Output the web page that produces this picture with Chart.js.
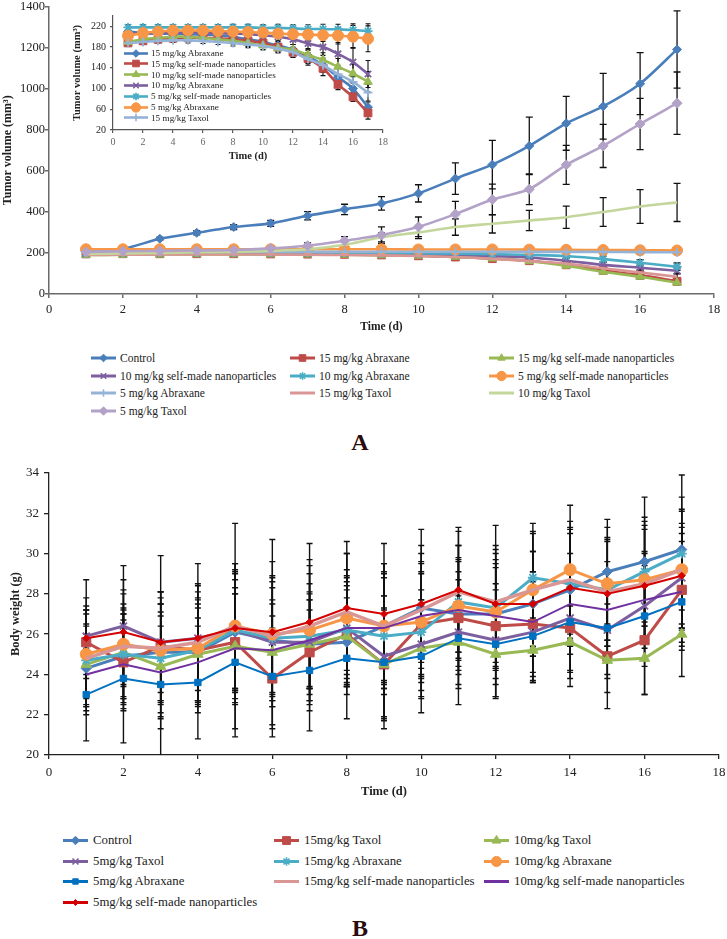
<!DOCTYPE html>
<html>
<head>
<meta charset="utf-8">
<script src="https://cdn.jsdelivr.net/npm/chart.js@4.4.0/dist/chart.umd.min.js"></script>
<style>
body { margin: 0; background: #fff; }
#page { position: relative; width: 727px; height: 939px; font-family: 'Liberation Serif', 'Times New Roman', serif; }
#page > canvas { position: absolute; }
.leg { position: absolute; display: flex; align-items: center; white-space: nowrap; color: #222; }
.leg canvas { display: block; }
.panel { position: absolute; font-weight: bold; font-size: 24px; color: #2b0b0b; transform: translate(-50%, -50%); }
</style>
</head>
<body>
<div id="page">
  <canvas id="chartA" width="727" height="336" style="left:0;top:0"></canvas>
  <canvas id="inset" width="335" height="158" style="left:58px;top:8px"></canvas>
  <div class="panel" style="left:360px;top:442px">A</div>
  <canvas id="chartB" width="727" height="339" style="left:0;top:462px"></canvas>
  <div class="panel" style="left:360px;top:928px">B</div>
</div>
<script>
// dias de medicion
const days = [1, 2, 3, 4, 5, 6, 7, 8, 9, 10, 11, 12, 13, 14, 15, 16, 17];
const xTicksMax = 18;

// ---- A: volumen tumoral (mm3)
const groupsA = ['Control', '15 mg/kg Abraxane', '15 mg/kg self-made nanoparticles',
  '10 mg/kg self-made nanoparticles', '10 mg/kg Abraxane', '5 mg/kg self-made nanoparticles',
  '5 mg/kg Abraxane', '15 mg/kg Taxol', '10 mg/kg Taxol', '5 mg/kg Taxol'];
const volControl = [215, 220, 269, 298, 326, 344, 381, 412, 441, 490, 562, 630, 721, 831, 914, 1024, 1191];
const volAbx15   = [195, 196, 196, 196, 196, 195, 194, 193, 190, 186, 180, 172, 162, 142, 115, 92, 62];
const volSelf15  = [190, 191, 192, 193, 193, 193, 192, 191, 189, 186, 181, 173, 160, 138, 108, 84, 55];
const volSelf10  = [198, 199, 200, 200, 200, 200, 199, 198, 196, 194, 190, 185, 178, 162, 142, 128, 113];
const volAbx10   = [200, 201, 202, 202, 202, 202, 202, 201, 200, 198, 196, 194, 190, 185, 170, 152, 133];
const volSelf5   = [218, 218, 218, 218, 218, 218, 218, 218, 218, 217, 217, 217, 216, 215, 214, 213, 212];
const volAbx5    = [205, 206, 206, 206, 206, 206, 206, 206, 206, 206, 206, 205, 205, 205, 205, 204, 203];
const volTax15   = [190, 191, 192, 192, 192, 192, 191, 190, 188, 185, 180, 172, 160, 148, 125, 105, 84];
const volTax10   = [195, 198, 200, 203, 205, 210, 218, 240, 276, 300, 326, 342, 358, 374, 399, 426, 446];
const volTax5    = [205, 208, 210, 212, 214, 222, 235, 259, 287, 327, 389, 460, 510, 629, 721, 828, 929];
// desviaciones
const errControl = [5, 6, 8, 10, 12, 15, 20, 25, 33, 42, 77, 118, 140, 131, 160, 151, 188];
const errAbx15   = [4, 4, 4, 5, 5, 5, 5, 6, 6, 7, 8, 9, 10, 12, 12, 12, 14];
const errSelf15  = [4, 4, 4, 5, 5, 5, 5, 6, 6, 7, 8, 9, 10, 11, 12, 12, 12];
const errSelf10  = [4, 4, 5, 5, 5, 5, 6, 6, 7, 8, 9, 10, 11, 12, 13, 14, 15];
const errAbx10   = [5, 5, 5, 5, 6, 6, 6, 6, 7, 8, 8, 9, 10, 12, 14, 15, 18];
const errSelf5   = [5, 5, 5, 5, 5, 6, 6, 6, 6, 7, 7, 8, 8, 9, 10, 10, 10];
const errAbx5    = [4, 4, 4, 4, 5, 5, 5, 5, 6, 6, 7, 7, 8, 8, 9, 9, 10];
const errTax15   = [4, 4, 4, 5, 5, 5, 5, 6, 6, 7, 8, 9, 10, 12, 13, 14, 15];
const errTax10   = [5, 5, 6, 6, 7, 8, 10, 15, 22, 30, 40, 45, 49, 54, 70, 82, 93];
const errTax5    = [5, 6, 6, 7, 8, 10, 14, 20, 40, 48, 62, 75, 75, 95, 105, 125, 152];

// ---- inserto de A
const groupsInset = ['15 mg/kg Abraxane', '15 mg/kg self-made nanoparticles', '10 mg/kg self-made nanoparticles',
  '10 mg/kg Abraxane', '5 mg/kg self-made nanoparticles', '5 mg/kg Abraxane', '15 mg/kg Taxol'];
const inAbx15  = [210, 207, 206, 206, 205, 204, 203, 200, 195, 190, 183, 175, 162, 145, 122, 100, 64];
const inSelf15 = [188, 192, 195, 197, 198, 198, 197, 195, 192, 188, 180, 170, 158, 139, 108, 84, 53];
const inSelf10 = [190, 195, 198, 200, 200, 198, 195, 192, 188, 183, 178, 175, 165, 155, 142, 129, 113];
const inAbx10  = [205, 207, 208, 208, 208, 208, 207, 206, 205, 203, 200, 195, 187, 180, 167, 151, 128];
const inSelf5  = [218, 218, 218, 218, 218, 218, 218, 218, 218, 217, 217, 216, 215, 215, 214, 213, 211];
const inAbx5   = [202, 207, 210, 212, 212, 212, 211, 210, 209, 208, 206, 205, 204, 203, 202, 200, 196];
const inTax15  = [188, 190, 192, 193, 193, 192, 190, 188, 185, 182, 177, 170, 157, 145, 128, 113, 92];
const inErrAbx15  = [4, 4, 4, 4, 5, 5, 5, 6, 6, 7, 8, 10, 12, 14, 18, 12, 10];
const inErrSelf15 = [5, 5, 5, 5, 5, 5, 6, 6, 6, 7, 8, 9, 10, 14, 10, 9, 12];
const inErrSelf10 = [4, 4, 5, 5, 5, 5, 6, 6, 7, 8, 9, 10, 12, 14, 16, 18, 20];
const inErrAbx10  = [4, 4, 4, 4, 4, 5, 5, 5, 6, 6, 8, 10, 12, 16, 22, 28, 26];
const inErrSelf5  = [5, 5, 5, 5, 5, 5, 5, 6, 6, 6, 7, 7, 8, 9, 10, 12, 14];
const inErrAbx5   = [5, 5, 5, 5, 5, 5, 5, 6, 6, 6, 7, 8, 10, 12, 16, 22, 25];
const inErrTax15  = [4, 4, 4, 4, 5, 5, 5, 6, 6, 7, 8, 10, 12, 12, 14, 16, 16];
const insetYTicks = [20, 60, 100, 140, 180, 220];

// ---- B: peso corporal (g)
const groupsB = ['Control', '15mg/kg Taxol', '10mg/kg Taxol', '5mg/kg Taxol', '15mg/kg Abraxane',
  '10mg/kg Abraxane', '5mg/kg Abraxane', '15mg/kg self-made nanoparticles',
  '10mg/kg self-made nanoparticles', '5mg/kg self-made nanoparticles'];
const bwControl = [24.3, 24.9, 25.1, 25.1, 26.1, 25.7, 25.5, 25.6, 26.4, 27.3, 27.0, 27.0, 27.5, 28.2, 29.1, 29.6, 30.2];
const bwTax15   = [25.6, 24.6, 25.4, 25.2, 25.6, 23.8, 25.1, 26.0, 24.5, 26.5, 26.8, 26.4, 26.5, 26.3, 24.9, 25.7, 28.2];
const bwTax10   = [24.5, 25.1, 24.4, 25.0, 25.4, 25.1, 25.5, 25.9, 24.5, 25.3, 25.6, 25.0, 25.2, 25.6, 24.7, 24.8, 26.0];
const bwTax5    = [25.9, 26.4, 25.6, 25.8, 26.2, 25.6, 25.6, 26.3, 24.9, 25.5, 26.1, 25.7, 26.1, 26.8, 26.2, 27.4, 28.8];
const bwAbx15   = [24.7, 25.0, 24.8, 25.2, 26.2, 25.8, 25.9, 26.2, 25.9, 26.1, 27.6, 27.3, 28.8, 28.5, 28.2, 29.1, 30.0];
const bwAbx10   = [25.0, 25.5, 25.2, 25.3, 26.4, 26.0, 26.2, 26.8, 26.4, 26.6, 27.4, 27.1, 28.2, 29.2, 28.5, 28.7, 29.2];
const bwAbx5    = [23.0, 23.8, 23.5, 23.6, 24.6, 23.9, 24.2, 24.8, 24.6, 24.9, 25.8, 25.5, 25.9, 26.6, 26.3, 26.9, 27.6];
const bwSelf15  = [24.8, 25.4, 25.3, 25.6, 26.4, 25.9, 26.4, 27.1, 26.4, 27.2, 28.1, 27.6, 28.2, 28.7, 28.1, 28.5, 29.2];
const bwSelf10  = [24.0, 24.5, 24.1, 24.6, 25.3, 25.2, 25.7, 26.3, 26.3, 26.9, 27.2, 26.9, 26.6, 27.5, 27.2, 27.7, 28.1];
const bwSelf5   = [25.8, 26.1, 25.6, 25.8, 26.3, 26.1, 26.6, 27.3, 27.0, 27.5, 28.2, 27.5, 27.5, 28.3, 28.0, 28.4, 28.9];
const sdControl = [2.1, 2.3, 2.4, 2.4, 2.9, 2.6, 2.5, 2.6, 2.7, 2.7, 2.8, 2.7, 2.6, 2.8, 2.6, 3.2, 3.7];
const sdTax15   = [1.8, 2.4, 2.7, 2.5, 3.1, 2.5, 2.6, 2.6, 2.7, 2.6, 2.8, 2.9, 2.6, 2.9, 2.6, 2.7, 2.8];
const sdTax10   = [2.0, 2.2, 2.5, 2.3, 2.6, 2.4, 2.2, 2.5, 2.8, 2.4, 2.3, 2.1, 1.6, 1.8, 1.6, 1.8, 2.1];
const sdTax5    = [1.9, 3.0, 2.5, 2.6, 3.0, 3.2, 3.4, 2.9, 3.0, 2.7, 2.6, 2.8, 2.5, 2.6, 2.4, 2.6, 2.5];
const sdAbx15   = [2.3, 2.5, 2.7, 2.6, 2.9, 2.8, 2.6, 2.7, 2.9, 2.9, 2.8, 2.9, 2.7, 2.8, 2.5, 2.7, 2.8];
const sdAbx10   = [2.2, 2.7, 2.6, 2.8, 5.1, 3.6, 3.5, 3.2, 3.1, 3.0, 3.0, 2.9, 2.9, 3.2, 2.8, 2.9, 2.9];
const sdAbx5    = [2.3, 3.2, 3.6, 2.8, 3.7, 3.0, 3.0, 3.0, 3.3, 2.8, 3.3, 2.7, 2.2, 2.5, 2.3, 2.5, 2.4];
const sdSelf15  = [2.4, 2.6, 2.8, 2.9, 3.1, 3.0, 3.0, 2.9, 3.1, 3.2, 3.0, 3.8, 2.8, 2.9, 2.7, 2.9, 3.0];
const sdSelf10  = [2.0, 2.2, 2.3, 2.2, 2.7, 2.5, 2.4, 2.5, 2.7, 2.6, 2.5, 2.6, 2.5, 2.5, 2.4, 2.4, 2.5];
const sdSelf5   = [2.9, 2.6, 4.3, 3.7, 3.2, 4.6, 3.9, 3.3, 3.5, 3.7, 3.1, 2.9, 2.6, 2.9, 2.6, 2.8, 2.6];

// estilos (color, marcador, radio, grosor)
const lookA = [
  { c: '#4A7EBB', s: 'rectRot', r: 4.5, w: 2.6 },
  { c: '#BE4B48', s: 'rect', r: 5.5, w: 2.6 },
  { c: '#98B954', s: 'triangle', r: 5, w: 2.6 },
  { c: '#7D5FA0', s: 'crossRot', r: 4.5, w: 2.6 },
  { c: '#4BACC6', s: 'star', r: 4.5, w: 2.6 },
  { c: '#F79646', s: 'circle', r: 5.5, w: 2.6 },
  { c: '#95B3D7', s: 'cross', r: 4.5, w: 2.6 },
  { c: '#DA9694', s: 'circle', r: 0, w: 2.6 },
  { c: '#C3D69B', s: 'circle', r: 0, w: 2.6 },
  { c: '#B3A2C7', s: 'rectRot', r: 5, w: 2.6 }
];
const lookInset = [lookA[0], lookA[1], lookA[2], lookA[3], lookA[4], lookA[5], lookA[6]];
const lookB = [
  { c: '#4A7EBB', s: 'rectRot', r: 5, w: 3 },
  { c: '#BE4B48', s: 'rect', r: 6.5, w: 3 },
  { c: '#98B954', s: 'triangle', r: 6, w: 3 },
  { c: '#7D5FA0', s: 'crossRot', r: 5, w: 3 },
  { c: '#4BACC6', s: 'star', r: 5, w: 3 },
  { c: '#F79646', s: 'circle', r: 6, w: 3 },
  { c: '#0070C0', s: 'rect', r: 4.5, w: 2 },
  { c: '#D99694', s: 'circle', r: 0, w: 3.5 },
  { c: '#7030A0', s: 'circle', r: 0, w: 2 },
  { c: '#D40000', s: 'rectRot', r: 3.5, w: 2 }
];

const serif = "'Liberation Serif', 'Times New Roman', serif";
Chart.defaults.font.family = serif;
Chart.defaults.color = '#222';

// barras de error dibujadas con las escalas del grafico
const errorBars = {
  id: 'errorBars',
  beforeDatasetsDraw(chart, args, opts) {
    const { ctx, chartArea, scales } = chart;
    ctx.save();
    ctx.beginPath();
    ctx.rect(chartArea.left, chartArea.top, chartArea.right - chartArea.left, chartArea.bottom - chartArea.top);
    ctx.clip();
    ctx.strokeStyle = '#111';
    ctx.lineWidth = opts.width || 1.2;
    const cap = opts.cap || 3;
    chart.data.datasets.forEach(ds => {
      if (!ds.errors) return;
      ds.data.forEach((p, i) => {
        const e = ds.errors[i];
        const px = scales.x.getPixelForValue(p.x);
        const top = scales.y.getPixelForValue(p.y + e);
        const bot = scales.y.getPixelForValue(p.y - e);
        ctx.beginPath();
        ctx.moveTo(px, top); ctx.lineTo(px, bot);
        ctx.moveTo(px - cap, top); ctx.lineTo(px + cap, top);
        ctx.moveTo(px - cap, bot); ctx.lineTo(px + cap, bot);
        ctx.stroke();
      });
    });
    ctx.restore();
  }
};

function axisFix(size) {
  return function (scale) {
    if (scale.isHorizontal()) scale.height = size; else scale.width = size;
    scale.paddingTop = 0; scale.paddingBottom = 0;
    scale.paddingLeft = 0; scale.paddingRight = 0;
  };
}

const plainNumber = v => String(v); // sin separador de miles

function makeSets(labels, values, errors, looks, tension) {
  const n = labels.length;
  return labels.map((label, k) => {
    const lk = looks[k];
    return {
      label: label,
      data: days.map((d, i) => ({ x: d, y: values[k][i] })),
      errors: errors[k],
      borderColor: lk.c,
      backgroundColor: lk.c,
      borderWidth: lk.w,
      pointStyle: lk.s,
      pointRadius: lk.r,
      pointBorderWidth: (lk.s === 'crossRot' || lk.s === 'star' || lk.s === 'cross') ? 1.8 : 1,
      pointBackgroundColor: lk.c,
      pointBorderColor: lk.c,
      tension: tension,
      order: n - k
    };
  });
}

function axisStyle(color, width, tick) {
  return {
    grid: { drawOnChartArea: false, drawTicks: true, tickLength: tick, color: color, lineWidth: width },
    border: { color: color, width: width }
  };
}

// ---- grafico A principal
new Chart(document.getElementById('chartA'), {
  type: 'line',
  data: {
    datasets: makeSets(groupsA,
      [volControl, volAbx15, volSelf15, volSelf10, volAbx10, volSelf5, volAbx5, volTax15, volTax10, volTax5],
      [errControl, errAbx15, errSelf15, errSelf10, errAbx10, errSelf5, errAbx5, errTax15, errTax10, errTax5],
      lookA, 0.25)
  },
  options: {
    responsive: false,
    animation: false,
    layout: { padding: { top: 6, right: 13, bottom: 0, left: 0 } },
    plugins: { legend: { display: false }, tooltip: { enabled: false }, errorBars: { cap: 3.5, width: 1.3 } },
    scales: {
      x: Object.assign({
        type: 'linear', min: 0, max: xTicksMax, afterFit: axisFix(42),
        ticks: { stepSize: 2, padding: 4, font: { size: 12.5 }, callback: plainNumber },
        title: { display: true, text: 'Time (d)', font: { size: 11.5, weight: 'bold' }, padding: { top: 0, bottom: 2 } }
      }, axisStyle('#6a6a6a', 1.5, 4)),
      y: Object.assign({
        min: 0, max: 1400, afterFit: axisFix(49),
        ticks: { stepSize: 200, padding: 0, font: { size: 12.5 }, callback: plainNumber },
        title: { display: true, text: 'Tumor volume (mm³)', font: { size: 12, weight: 'bold' }, padding: { top: 1, bottom: 0 } }
      }, axisStyle('#6a6a6a', 1.5, 4))
    }
  },
  plugins: [errorBars]
});

// ---- inserto
new Chart(document.getElementById('inset'), {
  type: 'line',
  data: {
    datasets: makeSets(groupsInset,
      [inAbx15, inSelf15, inSelf10, inAbx10, inSelf5, inAbx5, inTax15],
      [inErrAbx15, inErrSelf15, inErrSelf10, inErrAbx10, inErrSelf5, inErrAbx5, inErrTax15],
      lookInset, 0.3)
  },
  options: {
    responsive: false,
    animation: false,
    layout: { padding: { top: 8, right: 10, bottom: 0, left: 0 } },
    plugins: { legend: { display: false }, tooltip: { enabled: false }, errorBars: { cap: 2.5, width: 1.1 } },
    scales: {
      x: Object.assign({
        type: 'linear', min: 0, max: xTicksMax, afterFit: axisFix(36),
        ticks: { stepSize: 2, padding: 3, font: { size: 10 }, color: '#666', callback: plainNumber },
        title: { display: true, text: 'Time (d)', font: { size: 10.5, weight: 'bold' }, padding: { top: 0, bottom: 3 } }
      }, axisStyle('#555', 1.2, 3)),
      y: Object.assign({
        min: 20, max: 240, afterFit: axisFix(55),
        afterBuildTicks: s => { s.ticks = insetYTicks.map(v => ({ value: v })); },
        ticks: { padding: 4, font: { size: 10 }, callback: plainNumber },
        title: { display: true, text: 'Tumor volume (mm³)', font: { size: 10.5, weight: 'bold' }, padding: { top: 13, bottom: 0 } }
      }, axisStyle('#555', 1.2, 3))
    }
  },
  plugins: [errorBars]
});

// ---- grafico B
new Chart(document.getElementById('chartB'), {
  type: 'line',
  data: {
    datasets: makeSets(groupsB,
      [bwControl, bwTax15, bwTax10, bwTax5, bwAbx15, bwAbx10, bwAbx5, bwSelf15, bwSelf10, bwSelf5],
      [sdControl, sdTax15, sdTax10, sdTax5, sdAbx15, sdAbx10, sdAbx5, sdSelf15, sdSelf10, sdSelf5],
      lookB, 0)
  },
  options: {
    responsive: false,
    animation: false,
    layout: { padding: { top: 11, right: 8, bottom: 0, left: 0 } },
    plugins: { legend: { display: false }, tooltip: { enabled: false }, errorBars: { cap: 3, width: 1.4 } },
    scales: {
      x: Object.assign({
        type: 'linear', min: 0, max: xTicksMax, afterFit: axisFix(46),
        ticks: { stepSize: 2, padding: 6, font: { size: 13 }, callback: plainNumber },
        title: { display: true, text: 'Time (d)', font: { size: 12.5, weight: 'bold' }, padding: { top: 0, bottom: 2 } }
      }, axisStyle('#222', 1.3, 4)),
      y: Object.assign({
        min: 20, max: 34, afterFit: axisFix(49),
        ticks: { stepSize: 2, padding: 5, font: { size: 13 }, callback: plainNumber },
        title: { display: true, text: 'Body weight (g)', font: { size: 12.5, weight: 'bold' }, padding: { top: 8, bottom: 0 } }
      }, axisStyle('#222', 1.3, 5))
    }
  },
  plugins: [errorBars]
});

// ---- leyendas en HTML con marcadores de Chart.js
function drawKey(cv, lk, lineW) {
  const ctx = cv.getContext('2d');
  const h = cv.height / 2;
  ctx.strokeStyle = lk.c;
  ctx.fillStyle = lk.c;
  ctx.lineWidth = lineW;
  ctx.beginPath();
  ctx.moveTo(0, h); ctx.lineTo(cv.width, h);
  ctx.stroke();
  if (lk.r > 0 && Chart.helpers && Chart.helpers.drawPoint) {
    ctx.lineWidth = (lk.s === 'crossRot' || lk.s === 'star' || lk.s === 'cross') ? 1.6 : 1;
    Chart.helpers.drawPoint(ctx, { pointStyle: lk.s, radius: lk.r * 0.85, borderWidth: 1, rotation: 0 }, cv.width / 2, h);
  }
}

function buildLegend(labels, looks, spec) {
  const page = document.getElementById('page');
  labels.forEach((label, k) => {
    const col = k % spec.cols.length;
    const row = Math.floor(k / spec.cols.length);
    const item = document.createElement('div');
    item.className = 'leg';
    item.style.left = spec.cols[col] + 'px';
    item.style.top = (spec.rows[row] - spec.h / 2) + 'px';
    item.style.height = spec.h + 'px';
    item.style.fontSize = spec.font + 'px';
    const cv = document.createElement('canvas');
    cv.width = spec.keyW; cv.height = spec.h;
    cv.style.marginRight = spec.gap + 'px';
    drawKey(cv, looks[k], spec.lineW);
    const txt = document.createElement('span');
    txt.textContent = label;
    item.appendChild(cv);
    item.appendChild(txt);
    page.appendChild(item);
  });
}

buildLegend(groupsA, lookA, { cols: [91, 290, 489], rows: [358, 376, 393, 411], h: 14, keyW: 25, gap: 4, font: 11.5, lineW: 3 });
buildLegend(groupsInset, lookInset, { cols: [124], rows: [53, 63.8, 74.6, 85.4, 96.2, 107, 117.8], h: 11, keyW: 24, gap: 3, font: 9.2, lineW: 2.6 });
buildLegend(groupsB, lookB, { cols: [63, 274, 484], rows: [840, 861, 881, 902], h: 15, keyW: 25, gap: 5, font: 12.8, lineW: 3 });
</script>
</body>
</html>
